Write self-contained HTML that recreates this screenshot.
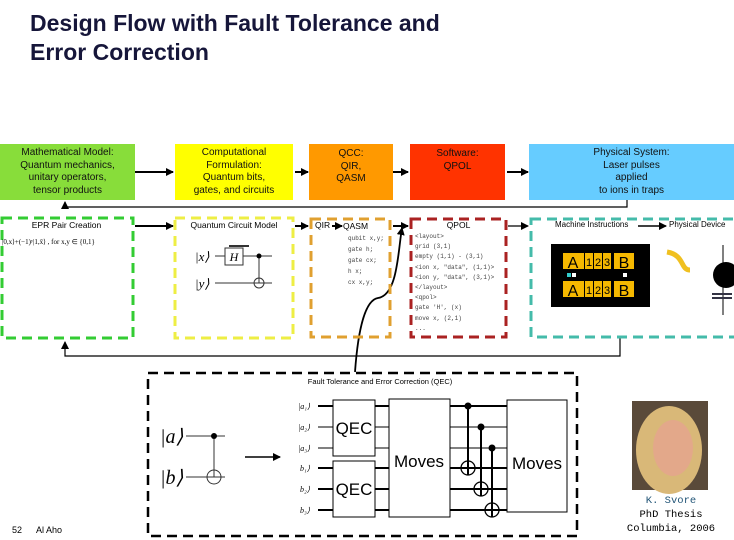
<!DOCTYPE html>
<html><head><style>
body{margin:0;width:734px;height:540px;background:#fff;position:relative;overflow:hidden;font-family:"Liberation Sans",sans-serif}
.a{position:absolute}
.tb{position:absolute;display:flex;align-items:center;justify-content:center;text-align:center;font-size:10px;line-height:12.5px;color:#111}
.mono{font-family:"Liberation Mono",monospace}
</style></head><body>
<div class="a" style="left:30px;top:9px;font-size:23px;font-weight:bold;color:#16163a;line-height:29px">Design Flow with Fault Tolerance and<br>Error Correction</div>

<div class="tb" style="left:0;top:144px;width:135px;height:56px;background:#88dd3a">Mathematical Model:<br>Quantum mechanics,<br>unitary operators,<br>tensor products</div>
<div class="tb" style="left:175px;top:144px;width:118px;height:56px;background:#ffff00">Computational<br>Formulation:<br>Quantum bits,<br>gates, and circuits</div>
<div class="tb" style="left:309px;top:144px;width:84px;height:56px;background:#ff9900;align-items:flex-start;padding-top:4px;box-sizing:border-box">QCC:<br>QIR,<br>QASM</div>
<div class="tb" style="left:410px;top:144px;width:95px;height:56px;background:#ff3300;align-items:flex-start;padding-top:4px;box-sizing:border-box">Software:<br>QPOL</div>
<div class="tb" style="left:529px;top:144px;width:205px;height:56px;background:#66ccff">Physical System:<br>Laser pulses<br>applied<br>to ions in traps</div>

<svg class="a" style="left:0;top:0" width="734" height="540">
<defs><marker id="m" markerWidth="8" markerHeight="8" refX="7" refY="4" orient="auto" markerUnits="userSpaceOnUse"><path d="M0,0L8,4L0,8z" fill="#000"/></marker></defs>
<g stroke="#000" stroke-width="2" fill="none">
<line x1="135" y1="172" x2="173" y2="172" marker-end="url(#m)"/>
<line x1="295" y1="172" x2="308" y2="172" marker-end="url(#m)"/>
<line x1="393" y1="172" x2="408" y2="172" marker-end="url(#m)"/>
<line x1="507" y1="172" x2="528" y2="172" marker-end="url(#m)"/>
</g>
<g stroke="#000" stroke-width="1.2" fill="none">
<polyline points="627,200 627,207 65,207 65,202" marker-end="url(#m)"/>
<polyline points="620,338 620,356 65,356 65,342" marker-end="url(#m)"/>
<line x1="135" y1="226" x2="173" y2="226" stroke-width="2" marker-end="url(#m)"/>
<line x1="295" y1="226" x2="308" y2="226" stroke-width="2" marker-end="url(#m)"/>
<line x1="332" y1="226" x2="342" y2="226" stroke-width="2" marker-end="url(#m)"/>
<line x1="393" y1="226" x2="408" y2="226" stroke-width="2" marker-end="url(#m)"/>
<line x1="508" y1="226" x2="528" y2="226" marker-end="url(#m)"/>
<line x1="638" y1="226" x2="666" y2="226" stroke-width="1.6" marker-end="url(#m)"/>
<path d="M355,372 C358,330 365,300 378,298 C398,295 398,250 402,228" stroke-width="1.8" marker-end="url(#m)"/>
</g>
<g fill="none" stroke-width="3" stroke-dasharray="10,6">
<rect x="2" y="218" width="131" height="120" stroke="#33cc33"/>
<rect x="175" y="218" width="118" height="120" stroke="#eeee44"/>
<rect x="311" y="219" width="79" height="118" stroke="#e0a030"/>
<rect x="411" y="219" width="95" height="118" stroke="#aa2222"/>
<rect x="531" y="219" width="205" height="118" stroke="#44bbaa"/>
<rect x="148" y="373" width="429" height="163" stroke="#000" stroke-width="2.5"/>
</g>
<g stroke="#333" stroke-width="1" fill="none">
<line x1="215" y1="256" x2="225" y2="256"/><rect x="225" y="248" width="18" height="17"/><line x1="243" y1="256" x2="272" y2="256"/>
<line x1="215" y1="283" x2="272" y2="283"/><line x1="259" y1="256" x2="259" y2="283"/><circle cx="259" cy="283" r="5"/>
<line x1="229" y1="246" x2="249" y2="246" stroke-width="2"/>
</g><circle cx="259" cy="256" r="2.5"/>
<text x="234" y="261" font-size="12" font-style="italic" text-anchor="middle" font-family="Liberation Serif">H</text>
<text x="195" y="261" font-size="13" font-style="italic" font-family="Liberation Serif">|x⟩</text>
<text x="195" y="288" font-size="13" font-style="italic" font-family="Liberation Serif">|y⟩</text>
<rect x="551" y="244" width="99" height="63" fill="#000"/>
<g fill="#f5b800"><rect x="563" y="253" width="21" height="16"/><rect x="585" y="253" width="8" height="16"/><rect x="594" y="253" width="8" height="16"/><rect x="603" y="253" width="8" height="16"/><rect x="614" y="253" width="20" height="16"/>
<rect x="563" y="281" width="21" height="16"/><rect x="585" y="281" width="8" height="16"/><rect x="594" y="281" width="8" height="16"/><rect x="603" y="281" width="8" height="16"/><rect x="614" y="281" width="20" height="16"/></g>
<rect x="567" y="273" width="4" height="4" fill="#33cccc"/><rect x="572" y="273" width="4" height="4" fill="#fff"/><rect x="623" y="273" width="4" height="4" fill="#fff"/>
<g font-size="16" text-anchor="middle"><text x="573" y="268">A</text><text x="589" y="266" font-size="11">1</text><text x="598" y="266" font-size="11">2</text><text x="607" y="266" font-size="11">3</text><text x="624" y="268">B</text>
<text x="573" y="296">A</text><text x="589" y="294" font-size="11">1</text><text x="598" y="294" font-size="11">2</text><text x="607" y="294" font-size="11">3</text><text x="624" y="296">B</text></g>
<path d="M667,252 C685,255 680,270 690,270" stroke="#f0c020" stroke-width="5" fill="none"/>
<line x1="723" y1="245" x2="723" y2="315" stroke="#000"/><circle cx="726" cy="275" r="13"/>
<path d="M712,294h20M712,298h20" stroke="#334" stroke-width="2"/>
<g stroke="#333" stroke-width="1" fill="none">
<line x1="186" y1="436" x2="225" y2="436"/><line x1="186" y1="477" x2="225" y2="477"/><line x1="214" y1="436" x2="214" y2="477"/><circle cx="214" cy="477" r="7"/>
</g><circle cx="214" cy="436" r="3"/>
<line x1="245" y1="457" x2="280" y2="457" stroke="#000" stroke-width="1.5" marker-end="url(#m)"/>
<text x="160" y="443" font-size="20" font-family="Liberation Serif" font-style="italic">|a⟩</text>
<text x="160" y="484" font-size="20" font-family="Liberation Serif" font-style="italic">|b⟩</text>
<g stroke="#000" stroke-width="2">
<line x1="318" y1="406" x2="507" y2="406"/><line x1="318" y1="427" x2="507" y2="427" stroke-width="1"/><line x1="318" y1="448" x2="507" y2="448" stroke-width="1"/>
<line x1="318" y1="468" x2="507" y2="468"/><line x1="318" y1="489" x2="507" y2="489"/><line x1="318" y1="510" x2="507" y2="510"/>
<line x1="468" y1="406" x2="468" y2="475"/><line x1="481" y1="427" x2="481" y2="496"/><line x1="492" y1="448" x2="492" y2="517"/>
</g>
<g fill="#fff" stroke="#000"><rect x="333" y="400" width="42" height="56"/><rect x="333" y="461" width="42" height="56"/><rect x="389" y="399" width="61" height="118"/><rect x="507" y="400" width="60" height="112"/></g>
<g fill="none" stroke="#000" stroke-width="1.3"><circle cx="468" cy="468" r="7"/><line x1="461" y1="468" x2="475" y2="468"/><circle cx="481" cy="489" r="7"/><line x1="474" y1="489" x2="488" y2="489"/><circle cx="492" cy="510" r="7"/><line x1="485" y1="510" x2="499" y2="510"/></g>
<circle cx="468" cy="406" r="3.5"/><circle cx="481" cy="427" r="3.5"/><circle cx="492" cy="448" r="3.5"/>
<g font-size="17" text-anchor="middle"><text x="354" y="434">QEC</text><text x="354" y="495">QEC</text><text x="419" y="467">Moves</text><text x="537" y="469">Moves</text></g>
<g font-size="8" font-family="Liberation Serif" font-style="italic"><text x="298" y="409">|a₁⟩</text><text x="298" y="430">|a₂⟩</text><text x="298" y="451">|a₃⟩</text><text x="300" y="471">b₁⟩</text><text x="300" y="492">b₂⟩</text><text x="300" y="513">b₃⟩</text></g>
<rect x="632" y="401" width="76" height="89" fill="#5a4a3a"/>
<ellipse cx="669" cy="450" rx="33" ry="44" fill="#d9b878"/>
<ellipse cx="673" cy="448" rx="20" ry="28" fill="#e3a88a"/>
</svg>
<div class="a" style="left:0;top:220px;width:133px;text-align:center;font-size:8.5px">EPR Pair Creation</div>
<div class="a" style="left:2px;top:238px;font-size:7px;font-family:'Liberation Serif',serif">|0,x⟩+(−1)ʸ|1,x̄⟩ , for x,y ∈ {0,1}</div>
<div class="a" style="left:175px;top:220px;width:118px;text-align:center;font-size:8.5px">Quantum Circuit Model</div>
<div class="a" style="left:315px;top:220px;font-size:8.5px">QIR</div>
<div class="a" style="left:343px;top:221px;font-size:8.5px">QASM</div>
<div class="a mono" style="left:348px;top:233px;font-size:6px;line-height:11px;color:#444">qubit x,y;<br>gate h;<br>gate cx;<br>h x;<br>cx x,y;</div>
<div class="a" style="left:411px;top:220px;width:95px;text-align:center;font-size:8.5px">QPOL</div>
<div class="a mono" style="left:415px;top:232px;font-size:6px;line-height:10.2px;color:#444;white-space:pre">&lt;layout&gt;
grid (3,1)
empty (1,1) - (3,1)
&lt;ion x, "data", (1,1)&gt;
&lt;ion y, "data", (3,1)&gt;
&lt;/layout&gt;
&lt;qpol&gt;
gate 'H', (x)
move x, (2,1)
...</div>
<div class="a" style="left:555px;top:220px;font-size:8px">Machine Instructions</div>
<div class="a" style="left:669px;top:220px;font-size:8px;white-space:nowrap">Physical Device</div>
<div class="a" style="left:150px;top:377px;width:460px;text-align:center;font-size:7.5px">Fault Tolerance and Error Correction (QEC)</div>
<div class="a mono" style="left:586px;top:494px;width:170px;text-align:center;font-size:10.5px;line-height:14px"><span style="color:#225577">K. Svore</span><br>PhD Thesis<br>Columbia, 2006</div>
<div class="a" style="left:12px;top:525px;font-size:9px">52</div>
<div class="a" style="left:36px;top:525px;font-size:9px">Al Aho</div>
</body></html>
